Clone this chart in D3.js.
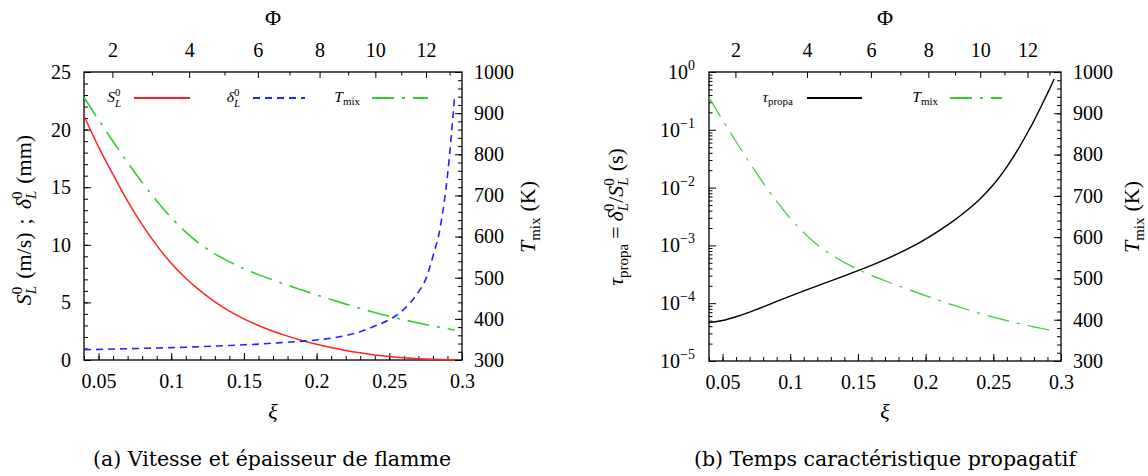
<!DOCTYPE html>
<html><head><meta charset="utf-8">
<script src="https://cdn.jsdelivr.net/npm/d3@7"></script>
<style>
body{margin:0;background:#fff;}
svg{display:block;}
text{font-family:"Liberation Serif",serif;fill:#000;}
.cap{font-family:"DejaVu Serif",serif;}
</style></head><body>
<svg id="c" width="1148" height="476"></svg>
<script>
// ---------------- data ----------------
const xi    = [0.04,0.05,0.06,0.07,0.08,0.09,0.10,0.11,0.12,0.13,0.14,0.15,0.16,0.17,0.18,0.19,0.20,0.21,0.22,0.23,0.24,0.25,0.26,0.27,0.275,0.28,0.285,0.29,0.295];
const sl    = [21.2,18.5,16.1,13.8,11.75,9.95,8.4,7.1,6.0,5.05,4.25,3.57,3.0,2.5,2.07,1.7,1.37,1.08,0.83,0.62,0.44,0.3,0.19,0.11,0.08,0.06,0.045,0.032,0.022];
const delta = [0.9,0.92,0.95,0.98,1.01,1.04,1.07,1.11,1.16,1.21,1.26,1.32,1.38,1.46,1.54,1.63,1.74,1.9,2.12,2.45,2.95,3.5,4.4,5.9,7.0,9.0,11.5,16.0,23.0];
const tmix  = [938,884,831,780,731.5,686.5,646,611,581.5,558,538.5,522,507.5,494.3,481.9,470,458.2,446.8,435.8,425.3,415.4,406.2,397.7,389.9,386.2,382.7,379.4,376.1,372.9];
const tau   = [4.62e-5,5.01e-5,5.82e-5,7.00e-5,8.61e-5,1.072e-4,1.327e-4,1.633e-4,1.995e-4,2.43e-4,2.97e-4,3.66e-4,4.53e-4,5.69e-4,7.28e-4,9.55e-4,1.288e-3,1.80e-3,2.60e-3,3.94e-3,6.31e-3,1.122e-2,2.29e-2,5.37e-2,8.71e-2,0.143,0.245,0.427,0.759];

const xiTicks   = [0.05,0.1,0.15,0.2,0.25,0.3];
const phiMajor  = [2,4,6,8,10,12];
const phiMinor  = [3,5,7,9,11,13];
const leftTicks = [0,5,10,15,20,25];
const tempTicks = [300,400,500,600,700,800,900,1000];
const tauExp    = [-5,-4,-3,-2,-1,0];
const phiK = 31.6;                       // Φ = phiK·ξ/(1−ξ)
const phiToXi = p => p/(phiK+p);

const captions = ["(a) Vitesse et épaisseur de flamme","(b) Temps caractéristique propagatif"];

// ---------------- style ----------------
const FS = 20, FT = 22, FTS = 15;
const C = {red:"#ff2222", blue:"#2222ff", green:"#33cc33", black:"#000"};
const svg = d3.select("#c");

function styleAxis(g){
  g.attr("font-size",null).attr("font-family",null);
  g.select(".domain").remove();
  g.selectAll("line").attr("stroke","#000").attr("stroke-width",1);
  g.selectAll("text").attr("font-size",FS);
}
function addAxis(gen, tr){
  return svg.append("g").attr("transform",tr).call(gen).call(styleAxis);
}

function panel(o){
  const {x, yr, x0, x1, y0, y1} = o;
  addAxis(d3.axisBottom(x).tickValues(x.ticks(26)).tickSize(-4).tickFormat(""), `translate(0,${y1})`);
  addAxis(d3.axisTop(x).tickValues(phiMinor.map(phiToXi)).tickSize(-3.5).tickFormat(""), `translate(0,${y0})`);
  addAxis(d3.axisRight(yr).tickValues(yr.ticks(35)).tickSize(-4).tickFormat(""), `translate(${x1},0)`);
  addAxis(d3.axisBottom(x).tickValues(xiTicks).tickSize(-7).tickPadding(14).tickFormat(d=>String(d)), `translate(0,${y1})`);
  addAxis(d3.axisTop(x).tickValues(phiMajor.map(phiToXi)).tickSize(-6).tickPadding(15).tickFormat((d,i)=>phiMajor[i]), `translate(0,${y0})`);
  addAxis(d3.axisRight(yr).tickValues(tempTicks).tickSize(-7).tickPadding(12).tickFormat(d3.format("d")), `translate(${x1},0)`);
  svg.append("rect").attr("x",x0).attr("y",y0).attr("width",x1-x0).attr("height",y1-y0)
    .attr("fill","none").attr("stroke","#000").attr("stroke-width",1.3);
  const cx = (x0+x1)/2;
  svg.append("text").attr("x",cx).attr("y",25).attr("text-anchor","middle").attr("font-size",FT).text("Φ");
  svg.append("text").attr("x",cx).attr("y",419).attr("text-anchor","middle").attr("font-size",FT).attr("font-style","italic").text("ξ");
}

// ---------------- left panel ----------------
const L = {x0:84, x1:462, y0:72, y1:360};
const xL = d3.scaleLinear([0.04,0.3],[L.x0,L.x1]);
const yL = d3.scaleLinear([0,25],[L.y1,L.y0]);
const tL = d3.scaleLinear([300,1000],[L.y1,L.y0]);
panel({x:xL, yr:tL, ...L});
addAxis(d3.axisLeft(yL).tickValues(yL.ticks(25)).tickSize(-4).tickFormat(""), `translate(${L.x0},0)`);
addAxis(d3.axisLeft(yL).tickValues(leftTicks).tickSize(-7).tickPadding(13), `translate(${L.x0},0)`);

const rows = xi.map((v,i)=>({xi:v, sl:sl[i], d:delta[i], t:tmix[i], tau:tau[i]}));
const lineL = (f,ys) => d3.line().x(d=>xL(d.xi)).y(d=>ys(f(d))).curve(d3.curveMonotoneX);
svg.append("path").attr("d",lineL(d=>d.t,tL)(rows)).attr("fill","none").attr("stroke",C.green).attr("stroke-width",1.6).attr("stroke-dasharray","22,8,3,8");
svg.append("path").attr("d",lineL(d=>d.sl,yL)(rows)).attr("fill","none").attr("stroke",C.red).attr("stroke-width",1.5);
svg.append("path").attr("d",lineL(d=>d.d,yL)(rows)).attr("fill","none").attr("stroke",C.blue).attr("stroke-width",1.6).attr("stroke-dasharray","7,5");

// ---------------- right panel ----------------
const R = {x0:709, x1:1061, y0:72, y1:361};
const xR = d3.scaleLinear([0.04,0.3],[R.x0,R.x1]);
const yR = d3.scaleLog([1e-5,1],[R.y1,R.y0]);
const tR = d3.scaleLinear([300,1000],[R.y1,R.y0]);
panel({x:xR, yr:tR, ...R});
const tauMajor = tauExp.map(e=>Math.pow(10,e));
const tauMinor = yR.ticks().filter(v=>Math.abs(Math.log10(v)-Math.round(Math.log10(v)))>1e-6);
addAxis(d3.axisLeft(yR).tickValues(tauMinor).tickSize(-3.5).tickFormat(""), `translate(${R.x0},0)`);
const gTau = addAxis(d3.axisLeft(yR).tickValues(tauMajor).tickSize(-7).tickFormat(""), `translate(${R.x0},0)`);
gTau.selectAll(".tick").each(function(d,i){
  const t = d3.select(this).append("text").attr("x",-14).attr("dy","0.32em").attr("text-anchor","end").attr("font-size",FS);
  t.append("tspan").text("10");
  t.append("tspan").attr("font-size",14).attr("dy",-9).text(tauExp[i]<0 ? "−"+(-tauExp[i]) : String(tauExp[i]));
});
const lineR = (f,ys) => d3.line().x(d=>xR(d.xi)).y(d=>ys(f(d))).curve(d3.curveMonotoneX);
svg.append("path").attr("d",lineR(d=>d.t,tR)(rows)).attr("fill","none").attr("stroke",C.green).attr("stroke-width",1.2).attr("stroke-dasharray","22,8,3,8");
svg.append("path").attr("d",lineR(d=>d.tau,yR)(rows)).attr("fill","none").attr("stroke",C.black).attr("stroke-width",1.4);

// ---------------- axis titles ----------------
function rotLabel(x,y,build){
  const t = svg.append("text").attr("transform",`translate(${x},${y}) rotate(-90)`).attr("text-anchor","middle").attr("font-size",FT);
  build(t);
}
function SL0(t, letter, dx){
  t.append("tspan").attr("font-style","italic").attr("dx",dx||0).text(letter);
  t.append("tspan").attr("font-size",FTS).attr("dy",-9).text("0");
  t.append("tspan").attr("font-size",FTS).attr("font-style","italic").attr("dx",-7.5).attr("dy",14).text("L");
  return -5;
}
rotLabel(31,220,t=>{
  let back = SL0(t,"S");
  t.append("tspan").attr("dy",back).attr("dx",7).text("(m/s)");
  t.append("tspan").attr("dx",8).text(";");
  back = SL0(t,"δ",9);
  t.append("tspan").attr("dy",back).attr("dx",7).text("(mm)");
});
function tmixLabel(x){
  rotLabel(x,217,t=>{
    t.append("tspan").attr("font-style","italic").text("T");
    t.append("tspan").attr("font-size",FTS).attr("dy",5).text("mix");
    t.append("tspan").attr("dy",-5).attr("dx",6).text("(K)");
  });
}
tmixLabel(535);
tmixLabel(1139);
rotLabel(623,217,t=>{
  t.append("tspan").attr("font-style","italic").text("τ");
  t.append("tspan").attr("font-size",FTS).attr("dy",5).text("propa");
  t.append("tspan").attr("dy",-5).attr("dx",5).text("=");
  let back = SL0(t,"δ",5);
  t.append("tspan").attr("dy",back).text("/");
  back = SL0(t,"S");
  t.append("tspan").attr("dy",back).attr("dx",6).text("(s)");
});

// ---------------- legends ----------------
const LY = 98, LFS = 15.5, LFSS = 11;
function legText(x, build){
  const t = svg.append("text").attr("x",x).attr("y",LY+4).attr("text-anchor","end").attr("font-size",LFS);
  build(t);
}
function leg0(t, letter){
  t.append("tspan").attr("font-style","italic").text(letter);
  t.append("tspan").attr("font-size",LFSS).attr("dy",-6.5).text("0");
  t.append("tspan").attr("font-size",LFSS).attr("font-style","italic").attr("dx",-5.5).attr("dy",11).text("L");
}
function legMix(t, letter, sub){
  t.append("tspan").attr("font-style","italic").text(letter);
  t.append("tspan").attr("font-size",LFSS).attr("dy",3).text(sub);
}
function legLine(xa,xb,color,dash,w){
  svg.append("line").attr("x1",xa).attr("x2",xb).attr("y1",LY).attr("y2",LY)
    .attr("stroke",color).attr("stroke-width",w||1.8).attr("stroke-dasharray",dash||null);
}
legText(121, t=>leg0(t,"S"));      legLine(134,190,C.red);
legText(240, t=>leg0(t,"δ"));      legLine(253,305,C.blue,"7,5");
legText(360, t=>legMix(t,"T","mix")); legLine(372,428,C.green,"22,8,3,8");
legText(793, t=>legMix(t,"τ","propa")); legLine(807,862,C.black,null,1.8);
legText(938, t=>legMix(t,"T","mix")); legLine(950,1002,C.green,"22,8,3,8");

// ---------------- captions ----------------
svg.append("text").attr("class","cap").attr("x",272).attr("y",466).attr("text-anchor","middle").attr("font-size",20.5).text(captions[0]);
svg.append("text").attr("class","cap").attr("x",885).attr("y",466).attr("text-anchor","middle").attr("font-size",20.5).text(captions[1]);
</script>
</body></html>
